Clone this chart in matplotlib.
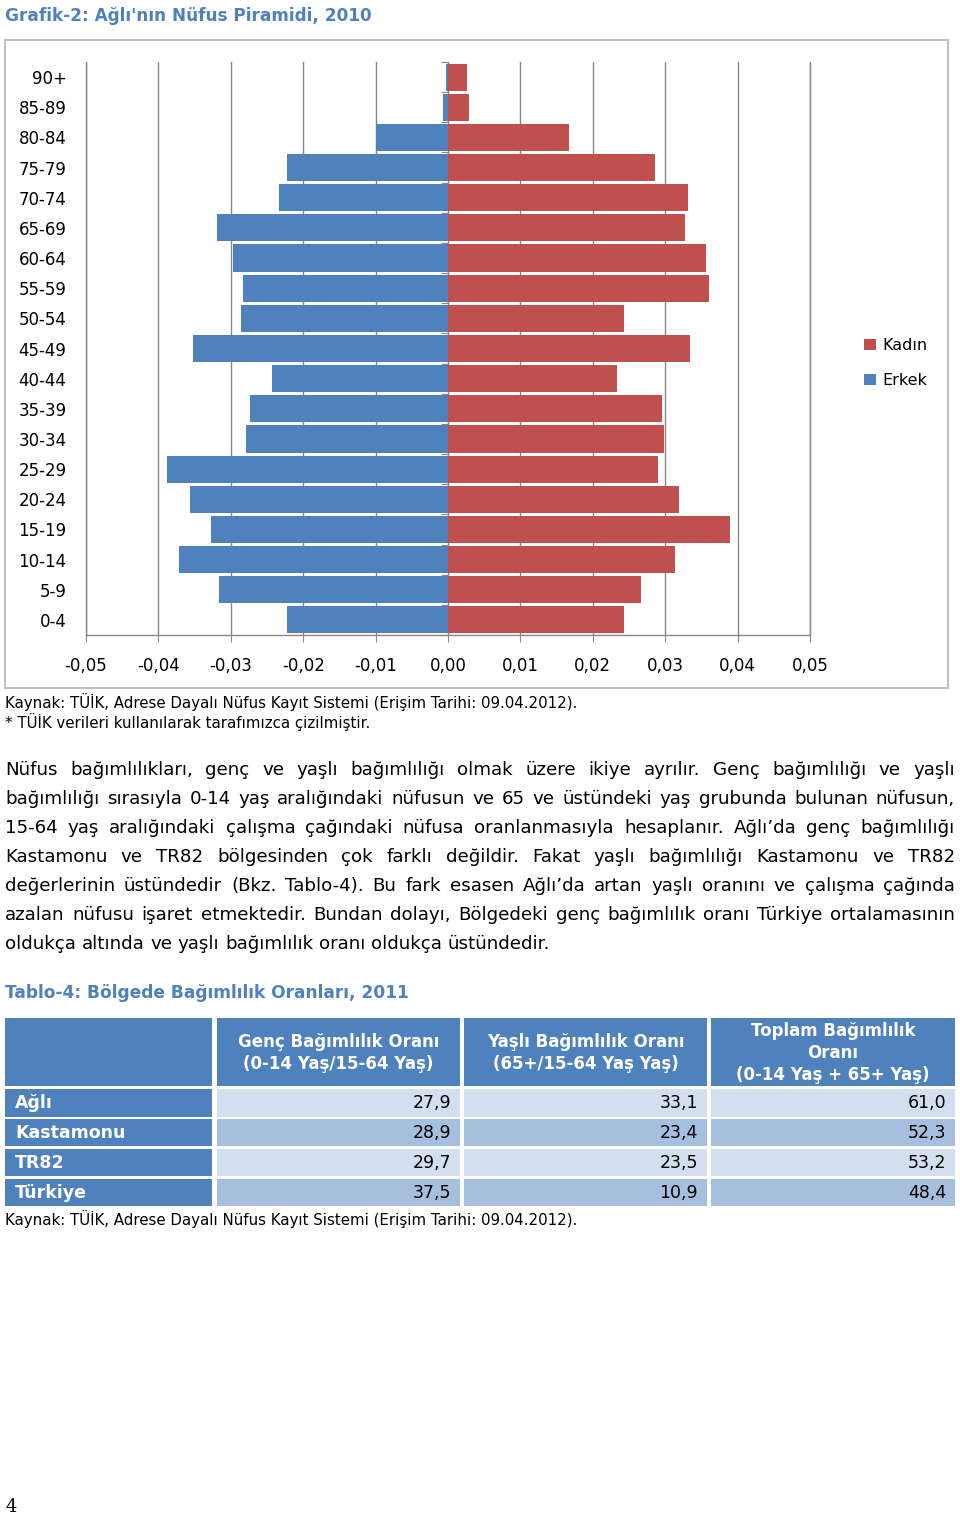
import numpy as np
import matplotlib
matplotlib.use("Agg")
import matplotlib.pyplot as plt
from matplotlib.patches import Rectangle

plt.rcParams['font.family'] = ['DejaVu Sans']

# ---------------- data ----------------
age_groups = ["0-4", "5-9", "10-14", "15-19", "20-24", "25-29", "30-34", "35-39",
              "40-44", "45-49", "50-54", "55-59", "60-64", "65-69", "70-74",
              "75-79", "80-84", "85-89", "90+"]
kadin = [0.0243, 0.0266, 0.0314, 0.0390, 0.0319, 0.0290, 0.0299, 0.0295,
         0.0233, 0.0334, 0.0243, 0.0361, 0.0357, 0.0328, 0.0331,
         0.0286, 0.0167, 0.0029, 0.0026]
erkek = [-0.0223, -0.0316, -0.0371, -0.0328, -0.0357, -0.0388, -0.0279, -0.0273,
         -0.0243, -0.0352, -0.0286, -0.0283, -0.0297, -0.0319, -0.0233,
         -0.0223, -0.0099, -0.0007, -0.0003]
xticks = [-0.05, -0.04, -0.03, -0.02, -0.01, 0.0, 0.01, 0.02, 0.03, 0.04, 0.05]

table_rows = ["Ağlı", "Kastamonu", "TR82", "Türkiye"]
table_headers = ["Genç Bağımlılık Oranı\n(0-14 Yaş/15-64 Yaş)",
                 "Yaşlı Bağımlılık Oranı\n(65+/15-64 Yaş Yaş)",
                 "Toplam Bağımlılık\nOranı\n(0-14 Yaş + 65+ Yaş)"]
genc = [27.9, 28.9, 29.7, 37.5]
yasli = [33.1, 23.4, 23.5, 10.9]
toplam = [61.0, 52.3, 53.2, 48.4]

title1 = "Grafik-2: Ağlı'nın Nüfus Piramidi, 2010"
title2 = "Tablo-4: Bölgede Bağımlılık Oranları, 2011"
source1 = "Kaynak: TÜİK, Adrese Dayalı Nüfus Kayıt Sistemi (Erişim Tarihi: 09.04.2012)."
source2 = "* TÜİK verileri kullanılarak tarafımızca çizilmiştir."
paragraph_lines = [
    "Nüfus bağımlılıkları, genç ve yaşlı bağımlılığı olmak üzere ikiye ayrılır. Genç bağımlılığı ve yaşlı",
    "bağımlılığı sırasıyla 0-14 yaş aralığındaki nüfusun ve 65 ve üstündeki yaş grubunda bulunan nüfusun,",
    "15-64 yaş aralığındaki çalışma çağındaki nüfusa oranlanmasıyla hesaplanır. Ağlı’da genç bağımlılığı",
    "Kastamonu ve TR82 bölgesinden çok farklı değildir. Fakat yaşlı bağımlılığı Kastamonu ve TR82",
    "değerlerinin üstündedir (Bkz. Tablo-4). Bu fark esasen Ağlı’da artan yaşlı oranını ve çalışma çağında",
    "azalan nüfusu işaret etmektedir. Bundan dolayı, Bölgedeki genç bağımlılık oranı Türkiye ortalamasının",
    "oldukça altında ve yaşlı bağımlılık oranı oldukça üstündedir.",
]

# ---------------- styles ----------------
RED = "#C0504D"
BLUE = "#4F81BD"
TITLE_BLUE = "#4F81BD"
GRID = "#878787"
LIGHT1 = "#D3DFEE"
LIGHT2 = "#A7BFDE"

W, H = 960, 1516
fig = plt.figure(figsize=(W / 100, H / 100), dpi=100)
fig.patch.set_facecolor("white")

# page overlay axes in pixel coordinates
page = fig.add_axes([0, 0, 1, 1], zorder=0)
page.set_xlim(0, W)
page.set_ylim(H, 0)
page.axis("off")

# chart frame
page.add_patch(Rectangle((5, 40), 943, 648, facecolor="white",
                         edgecolor="#BFBFBF", lw=1.5))

# ---------------- pyramid ----------------
ax = fig.add_axes([86 / W, 1 - 635 / H, (810 - 86) / W, (635 - 62) / H], zorder=2)
ax.set_facecolor("none")
y = np.arange(len(age_groups))
b1 = ax.barh(y, kadin, height=0.9, color=RED, label="Kadın", zorder=3)
b2 = ax.barh(y, erkek, height=0.9, color=BLUE, label="Erkek", zorder=3)
ax.set_xlim(-0.05, 0.05)
ax.set_ylim(-0.5, len(age_groups) - 0.5)
ax.set_xticks(xticks)
ax.set_xticklabels([f"{v:.2f}".replace(".", ",") for v in xticks], fontsize=12)
ax.set_yticks(y)
ax.set_yticklabels(age_groups, fontsize=12)
ax.tick_params(axis="y", length=0, pad=14)
ax.tick_params(axis="x", length=5, color=GRID, pad=11)
ax.grid(axis="x", color=GRID, lw=1, zorder=0)
ax.spines["top"].set_visible(False)
for s in ["left", "right", "bottom"]:
    ax.spines[s].set_color(GRID)
    ax.spines[s].set_linewidth(1)
sec = ax.secondary_yaxis(0.5)
sec.set_alignment("left")
sec.set_yticks(np.arange(-0.5, len(age_groups), 1.0))
sec.set_yticklabels([])
sec.tick_params(length=5, color=GRID, direction="out")
sec.spines["left"].set_color(GRID)
sec.spines["left"].set_zorder(4)

ax.legend(handles=[b1, b2], loc="center left",
          bbox_to_anchor=(850 / W, 1 - 363 / H), bbox_transform=fig.transFigure,
          frameon=False, fontsize=11.5, handlelength=0.75, handleheight=0.75,
          handletextpad=0.35, labelspacing=1.25)

# ---------------- texts ----------------
fig.canvas.draw()
rend = fig.canvas.get_renderer()


def width_of(txt, **kw):
    t = page.text(0, 0, txt, **kw)
    w = t.get_window_extent(rend).width
    t.remove()
    return w


def fit_size(txt, target, base=12, **kw):
    return base * target / width_of(txt, fontsize=base, **kw)


page.text(5, 16, title1, fontsize=fit_size(title1, 366, weight="bold"),
          weight="bold", color=TITLE_BLUE, va="center", ha="left")

src_size = fit_size(source1, 568)
page.text(5, 702, source1, fontsize=src_size, va="center", ha="left")
page.text(5, 722, source2, fontsize=src_size, va="center", ha="left")

body_size = fit_size(paragraph_lines[-1], 546)
line_y = [770, 799, 828, 857, 886, 915, 944]
x0, x1 = 5, 955
for i, (line, yy) in enumerate(zip(paragraph_lines, line_y)):
    words = line.split(" ")
    ts = [page.text(0, yy, w_, fontsize=body_size, va="center", ha="left") for w_ in words]
    widths = [t.get_window_extent(rend).width for t in ts]
    if i == len(paragraph_lines) - 1:
        gap = width_of("a a", fontsize=body_size) - width_of("aa", fontsize=body_size)
    else:
        gap = (x1 - x0 - sum(widths)) / (len(words) - 1)
    x = x0
    for t, w_ in zip(ts, widths):
        t.set_x(x)
        x += w_ + gap

page.text(5, 993, title2, fontsize=fit_size(title2, 402, weight="bold"),
          weight="bold", color=TITLE_BLUE, va="center", ha="left")

# ---------------- table ----------------
col_x = [(5, 212), (217, 460), (464, 707), (711, 955)]
header_y = (1018, 1086)
row_y = [(1089, 1117), (1119, 1146), (1149, 1176), (1179, 1206)]
row_fill = [LIGHT1, LIGHT2, LIGHT1, LIGHT2]

for (cx0, cx1) in col_x:
    page.add_patch(Rectangle((cx0, header_y[0]), cx1 - cx0, header_y[1] - header_y[0],
                             facecolor=BLUE, edgecolor="none"))
hdr_size = 12
for (cx0, cx1), h in zip(col_x[1:], table_headers):
    page.text((cx0 + cx1) / 2, (header_y[0] + header_y[1]) / 2 + 1, h,
              fontsize=hdr_size, weight="bold", color="white",
              ha="center", va="center", linespacing=1.25)

cols = [genc, yasli, toplam]
for r, (name, (ry0, ry1)) in enumerate(zip(table_rows, row_y)):
    page.add_patch(Rectangle((col_x[0][0], ry0), col_x[0][1] - col_x[0][0], ry1 - ry0,
                             facecolor=BLUE, edgecolor="none"))
    page.text(15, (ry0 + ry1) / 2, name, fontsize=12.5, weight="bold",
              color="white", ha="left", va="center")
    for c, vals in enumerate(cols):
        cx0, cx1 = col_x[c + 1]
        page.add_patch(Rectangle((cx0, ry0), cx1 - cx0, ry1 - ry0,
                                 facecolor=row_fill[r], edgecolor="none"))
        page.text(cx1 - 9, (ry0 + ry1) / 2, f"{vals[r]:.1f}".replace(".", ","),
                  fontsize=12.5, color="black", ha="right", va="center")

page.text(5, 1219, source1, fontsize=src_size, va="center", ha="left")

page.text(5, 1507, "4", fontsize=13, family="DejaVu Serif", va="center", ha="left")

fig.savefig("out.png", dpi=100, facecolor="white")
